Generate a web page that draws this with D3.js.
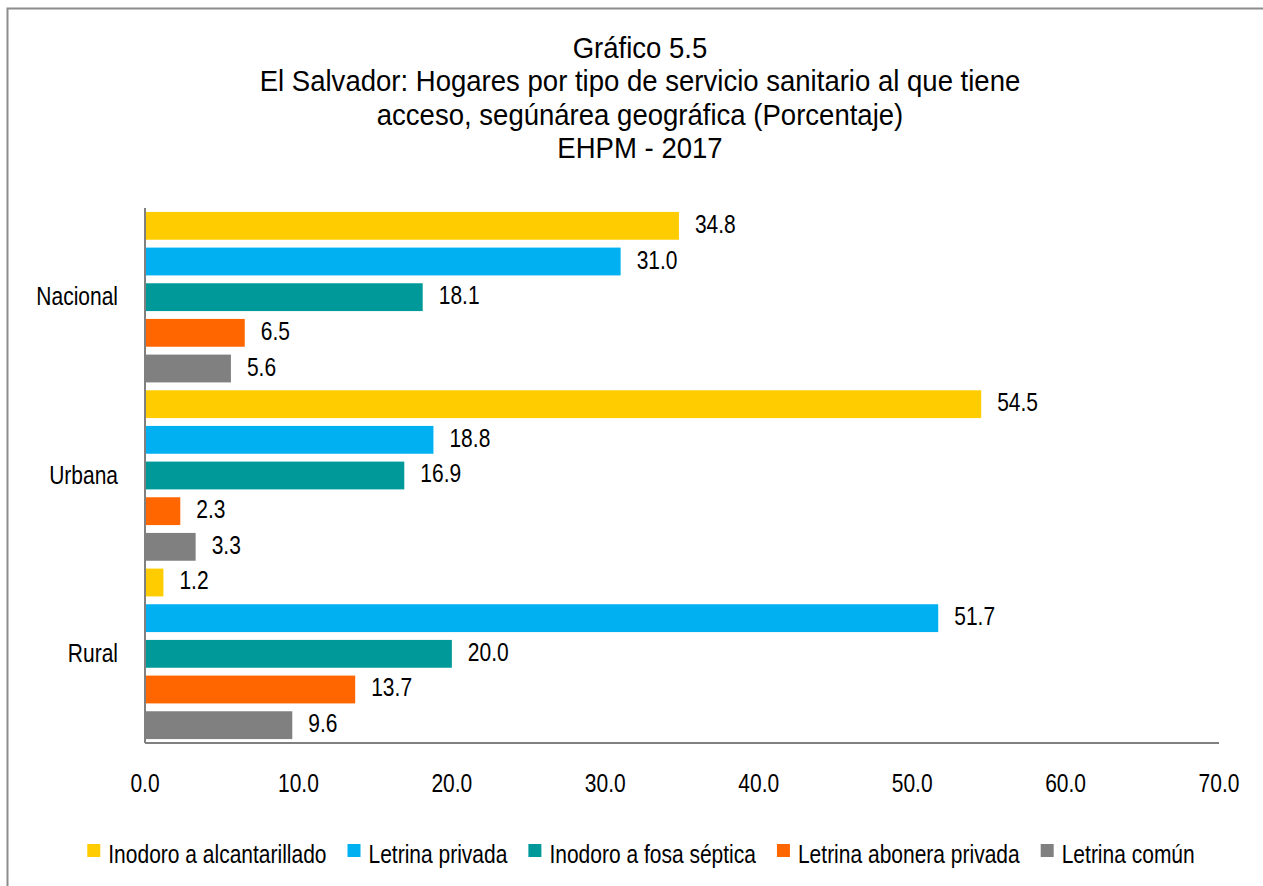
<!DOCTYPE html>
<html>
<head>
<meta charset="utf-8">
<script src="https://cdn.jsdelivr.net/npm/d3@7"></script>
<style>
  body { margin: 0; background: #fff; }
  text { font-family: "Liberation Sans", Arial, sans-serif; fill: #000; }
</style>
</head>
<body>
<div id="chart"></div>
<script>
var areas = ["Nacional", "Urbana", "Rural"];
var tipos = ["Inodoro a alcantarillado", "Letrina privada", "Inodoro a fosa séptica", "Letrina abonera privada", "Letrina común"];
var colores = ["#FFCC00", "#00B0F0", "#009999", "#FF6600", "#808080"];
var nacional = [34.8, 31.0, 18.1, 6.5, 5.6];
var urbana = [54.5, 18.8, 16.9, 2.3, 3.3];
var rural = [1.2, 51.7, 20.0, 13.7, 9.6];
var ticks = [0, 10, 20, 30, 40, 50, 60, 70];
var titulo = ["Gráfico 5.5", "El Salvador: Hogares por tipo de servicio sanitario al que tiene", "acceso, segúnárea geográfica (Porcentaje)", "EHPM - 2017"];

var valores = { Nacional: nacional, Urbana: urbana, Rural: rural };

var W = 1263, H = 886;
var M = { t: 208, r: 44, b: 143, l: 145 };
var w = W - M.l - M.r, h = H - M.t - M.b;
var NARROW = 0.84, FS = 25;

// texto estrecho (tipo Arial Narrow)
function pos(x, y, sx) {
  return "translate(" + x + "," + y + ") scale(" + (sx || NARROW) + ",1)";
}

var svg = d3.select("#chart").append("svg")
  .attr("width", W).attr("height", H);

// marco exterior
svg.append("rect")
  .attr("x", 7.5).attr("y", 8.5)
  .attr("width", W + 20).attr("height", H + 20)
  .attr("fill", "none").attr("stroke", "#8c8c8c").attr("stroke-width", 2);

// titulo
svg.append("g").selectAll("text").data(titulo).enter().append("text")
  .attr("transform", function(d, i) { return pos(640, 57.5 + i * 33.6, 0.95); })
  .attr("text-anchor", "middle")
  .style("font-size", "29px")
  .text(function(d) { return d; });

var g = svg.append("g").attr("transform", "translate(" + M.l + "," + M.t + ")");

var scaleX = d3.scaleLinear().domain([0, 70]).range([0, w]);
var scaleY0 = d3.scaleBand().domain(areas).range([0, h]);
var scaleY1 = d3.scaleBand().domain(tipos).range([0, scaleY0.bandwidth()])
  .paddingInner(0.22).paddingOuter(0.11);
var scaleColor = d3.scaleOrdinal().domain(tipos).range(colores);

var grupos = g.selectAll(".area").data(areas).enter().append("g")
  .attr("class", "area")
  .attr("transform", function(d) { return "translate(0," + scaleY0(d) + ")"; });

var barras = grupos.selectAll(".bar")
  .data(function(a) { return tipos.map(function(t, i) { return { tipo: t, v: valores[a][i] }; }); })
  .enter();

barras.append("rect")
  .attr("class", "bar")
  .attr("x", 0)
  .attr("y", function(d) { return scaleY1(d.tipo); })
  .attr("height", scaleY1.bandwidth())
  .attr("width", function(d) { return scaleX(d.v); })
  .style("fill", function(d) { return scaleColor(d.tipo); });

barras.append("text")
  .attr("transform", function(d) {
    return pos(scaleX(d.v) + 16, scaleY1(d.tipo) + scaleY1.bandwidth() / 2 + 7);
  })
  .style("font-size", FS + "px")
  .text(function(d) { return d.v.toFixed(1); });

// eje y
g.append("line").attr("x1", 0).attr("x2", 0).attr("y1", 0).attr("y2", h)
  .attr("stroke", "#808080").attr("stroke-width", 2);
g.append("g").selectAll("text").data(areas).enter().append("text")
  .attr("transform", function(d) { return pos(-27, scaleY0(d) + scaleY0.bandwidth() / 2 + 8); })
  .attr("text-anchor", "end")
  .style("font-size", FS + "px")
  .text(function(d) { return d; });

// eje x
g.append("line").attr("x1", 0).attr("x2", w).attr("y1", h).attr("y2", h)
  .attr("stroke", "#808080").attr("stroke-width", 2);
g.append("g").selectAll("text").data(ticks).enter().append("text")
  .attr("transform", function(d) { return pos(scaleX(d), h + 49); })
  .attr("text-anchor", "middle")
  .style("font-size", FS + "px")
  .text(function(d) { return d.toFixed(1); });

// leyenda
var leyenda = svg.append("g");
var items = leyenda.selectAll("g").data(tipos).enter().append("g");
items.append("rect").attr("width", 13).attr("height", 13).attr("y", -19)
  .style("fill", function(d) { return scaleColor(d); });
items.append("text").attr("transform", pos(21, 0))
  .style("font-size", FS + "px")
  .text(function(d) { return d; });
var xPos = 0;
items.each(function() {
  var bw = this.getBBox().width;
  var tw = d3.select(this).select("text").node().getComputedTextLength() * NARROW;
  d3.select(this).attr("transform", "translate(" + xPos + ",863)");
  xPos += 21 + tw + 21;
});
var totalW = xPos - 21;
leyenda.attr("transform", "translate(" + (641 - totalW / 2) + ",0)");
</script>
</body>
</html>
